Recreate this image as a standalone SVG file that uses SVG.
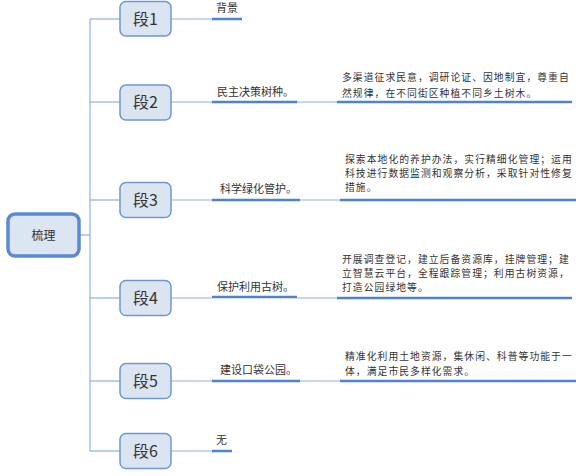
<svg xmlns="http://www.w3.org/2000/svg" width="588" height="476" viewBox="0 0 588 476">
<style>
.root{fill:#dce6f3;stroke:#5a8ad6;stroke-width:3.5}
.seg{fill:#dbe5f2;stroke:#6d97d6;stroke-width:1.5}
.thin{stroke:#8db0e2;stroke-width:1.2;fill:none}
.ul{stroke:#4f82d0;stroke-width:2.5;fill:none}
text{font-family:"Noto Sans CJK SC","Microsoft YaHei",sans-serif;fill:#333}
.st{font-size:16px;text-anchor:middle}
.rt{font-size:12px;text-anchor:middle}
.lb{font-size:11px}
.dt{font-size:9.8px;letter-spacing:1.05px}
</style>
<rect width="588" height="476" fill="#fff"/>
<g id="connectors">
<line class="thin" x1="80" y1="235" x2="90" y2="235"/>
<line class="thin" x1="90" y1="19" x2="90" y2="451"/>
<line class="thin" x1="90" y1="19" x2="120" y2="19"/>
<line class="thin" x1="90" y1="102" x2="120" y2="102"/>
<line class="thin" x1="90" y1="200" x2="120" y2="200"/>
<line class="thin" x1="90" y1="298" x2="120" y2="298"/>
<line class="thin" x1="90" y1="381" x2="120" y2="381"/>
<line class="thin" x1="90" y1="451" x2="120" y2="451"/>
<line class="thin" x1="171" y1="19" x2="212" y2="19"/>
<line class="thin" x1="171" y1="102" x2="212" y2="102"/>
<line class="thin" x1="171" y1="200" x2="212" y2="200"/>
<line class="thin" x1="171" y1="298" x2="212" y2="298"/>
<line class="thin" x1="171" y1="381" x2="212" y2="381"/>
<line class="thin" x1="171" y1="451" x2="212" y2="451"/>
<line class="thin" x1="297" y1="102" x2="337" y2="102"/>
<line class="thin" x1="300" y1="200" x2="340" y2="200"/>
<line class="thin" x1="297" y1="298" x2="337" y2="298"/>
<line class="thin" x1="300" y1="381" x2="340" y2="381"/>
</g>
<g id="root">
<rect class="root" x="8" y="214" width="71" height="42" rx="7"/>
<text class="rt" x="43.5" y="239.5">梳理</text>
</g>
<g id="seg1">
<rect class="seg" x="120" y="1.5" width="51" height="34.5" rx="6"/>
<text class="st" x="145.5" y="24.5">段1</text>
</g>
<g id="seg2">
<rect class="seg" x="120" y="85" width="51" height="35" rx="6"/>
<text class="st" x="145.5" y="108">段2</text>
</g>
<g id="seg3">
<rect class="seg" x="120" y="182.5" width="51" height="35" rx="6"/>
<text class="st" x="145.5" y="205.5">段3</text>
</g>
<g id="seg4">
<rect class="seg" x="120" y="280.5" width="51" height="35" rx="6"/>
<text class="st" x="145.5" y="303.5">段4</text>
</g>
<g id="seg5">
<rect class="seg" x="120" y="363.5" width="51" height="35" rx="6"/>
<text class="st" x="145.5" y="386.5">段5</text>
</g>
<g id="seg6">
<rect class="seg" x="120" y="433.5" width="51" height="35" rx="6"/>
<text class="st" x="145.5" y="456.5">段6</text>
</g>
<g id="label1">
<line class="ul" x1="212" y1="19" x2="242" y2="19"/>
<text class="lb" x="216" y="12">背景</text>
</g>
<g id="label2">
<line class="ul" x1="212" y1="102" x2="297" y2="102"/>
<text class="lb" x="217" y="96">民主决策树种。</text>
</g>
<g id="label3">
<line class="ul" x1="212" y1="200" x2="300" y2="200"/>
<text class="lb" x="220" y="193">科学绿化管护。</text>
</g>
<g id="label4">
<line class="ul" x1="212" y1="297" x2="297" y2="297"/>
<text class="lb" x="217" y="291">保护利用古树。</text>
</g>
<g id="label5">
<line class="ul" x1="212" y1="381" x2="300" y2="381"/>
<text class="lb" x="220" y="374">建设口袋公园。</text>
</g>
<g id="label6">
<line class="ul" x1="212" y1="451" x2="232" y2="451"/>
<text class="lb" x="216" y="444">无</text>
</g>
<g id="detail2">
<line class="ul" x1="337" y1="102" x2="572" y2="102"/>
<text class="dt" x="342" y="81">多渠道征求民意，调研论证、因地制宜，尊重自</text>
<text class="dt" x="342" y="97">然规律，在不同街区种植不同乡土树木。</text>
</g>
<g id="detail3">
<line class="ul" x1="340" y1="200" x2="576" y2="200"/>
<text class="dt" x="345" y="163">探索本地化的养护办法，实行精细化管理；运用</text>
<text class="dt" x="345" y="177.2">科技进行数据监测和观察分析，采取针对性修复</text>
<text class="dt" x="345" y="191.4">措施。</text>
</g>
<g id="detail4">
<line class="ul" x1="337" y1="298" x2="572" y2="298"/>
<text class="dt" x="342" y="262.7">开展调查登记，建立后备资源库，挂牌管理；建</text>
<text class="dt" x="342" y="276.9">立智慧云平台，全程跟踪管理；利用古树资源，</text>
<text class="dt" x="342" y="291.1">打造公园绿地等。</text>
</g>
<g id="detail5">
<line class="ul" x1="340" y1="381" x2="576" y2="381"/>
<text class="dt" x="345" y="359.7">精准化利用土地资源，集休闲、科普等功能于一</text>
<text class="dt" x="345" y="374.5">体，满足市民多样化需求。</text>
</g>
</svg>
